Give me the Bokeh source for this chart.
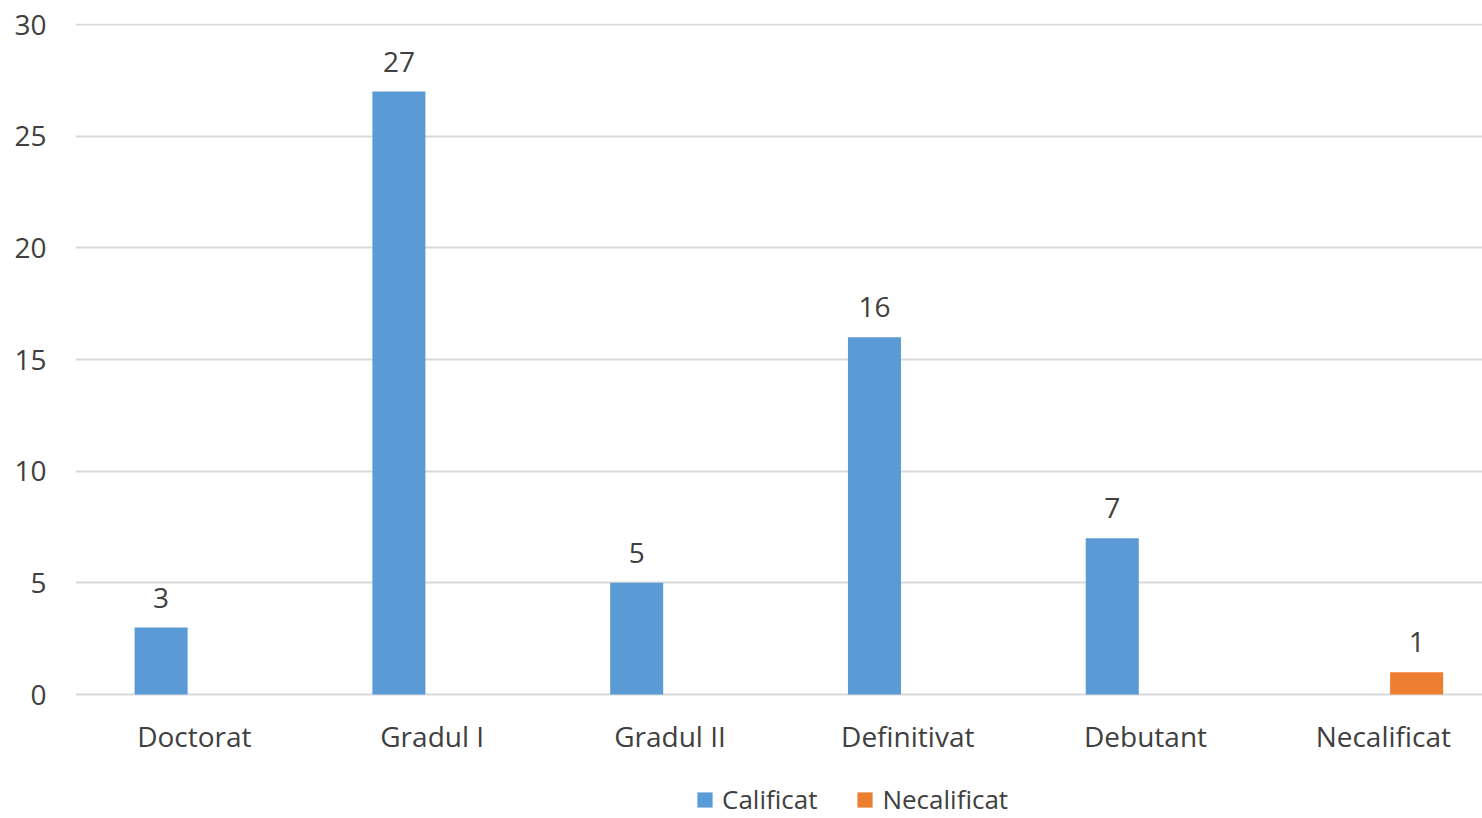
from bokeh.plotting import figure
from bokeh.models import Range1d, FixedTicker, ColumnDataSource, Legend, LegendItem
from bokeh.transform import dodge
from bokeh.core.properties import value
from bokeh.embed import file_html
from bokeh.resources import INLINE

categories = ["Doctorat", "Gradul I", "Gradul II", "Definitivat", "Debutant", "Necalificat"]
calificat = [3, 27, 5, 16, 7, None]
necalificat = [None, None, None, None, None, 1]
y_ticks = [0, 5, 10, 15, 20, 25, 30]

FONT = "Open Sans"
TXT = "#404040"
BLUE = "#5B9BD5"
ORANGE = "#ED7D31"

nan = float("nan")
xs = [i + 0.5 for i in range(len(categories))]


def clean(v):
    return [nan if a is None else a for a in v]


def lbl(v):
    return ["" if a is None else str(a) for a in v]


src = ColumnDataSource(dict(
    x=xs,
    cal=clean(calificat), nec=clean(necalificat),
    cal_lbl=lbl(calificat), nec_lbl=lbl(necalificat),
))

# frame runs to the bottom edge so the legend can sit below the category labels
p = figure(width=1482, height=818,
           x_range=Range1d(0, 5.917), y_range=Range1d(-5.552, 30.045),
           output_backend="svg", toolbar_location=None,
           min_border_left=75, min_border_right=0, min_border_top=23, min_border_bottom=0)
p.outline_line_color = None
p.background_fill_color = "white"
p.border_fill_color = "white"

# y axis
p.yaxis.ticker = FixedTicker(ticks=y_ticks)
p.yaxis.axis_line_color = None
p.yaxis.major_tick_line_color = None
p.yaxis.minor_tick_line_color = None
p.yaxis.major_label_standoff = 23
p.yaxis.major_label_text_font = FONT
p.yaxis.major_label_text_font_size = "28px"
p.yaxis.major_label_text_color = TXT

# x axis, pinned at y = 0
p.xaxis.fixed_location = 0
p.xaxis.ticker = FixedTicker(ticks=xs)
p.xaxis.major_label_overrides = {x: c for x, c in zip(xs, categories)}
p.xaxis.axis_line_color = None
p.xaxis.major_tick_line_color = None
p.xaxis.minor_tick_line_color = None
p.xaxis.major_label_standoff = 16
p.xaxis.major_label_text_font = FONT
p.xaxis.major_label_text_font_size = "28px"
p.xaxis.major_label_text_color = TXT

p.xgrid.grid_line_color = None
p.ygrid.ticker = FixedTicker(ticks=y_ticks)
p.ygrid.grid_line_color = "#d9d9d9"
p.ygrid.grid_line_width = 2

OFF = 0.14
W = 0.223
r1 = p.vbar(x=dodge("x", -OFF), top="cal", width=W, source=src,
            fill_color=BLUE, line_color=None)
r2 = p.vbar(x=dodge("x", OFF), top="nec", width=W, source=src,
            fill_color=ORANGE, line_color=None)

for xo, col in ((-OFF, "cal"), (OFF, "nec")):
    p.text(x=dodge("x", xo), y=col, text=col + "_lbl", source=src,
           text_align="center", text_baseline="alphabetic", y_offset=-30,
           text_font=value(FONT), text_font_size="28px", text_color=TXT)

legend = Legend(items=[LegendItem(label="Calificat", renderers=[r1]),
                       LegendItem(label="Necalificat", renderers=[r2])],
                orientation="horizontal", location=(620, 1),
                glyph_width=19, glyph_height=19, label_standoff=8, spacing=38,
                padding=0, margin=0, border_line_color=None, background_fill_alpha=0,
                label_text_font=FONT, label_text_font_size="26px", label_text_color=TXT)
p.add_layout(legend, "center")

open("out.html", "w").write(file_html(p, INLINE))
